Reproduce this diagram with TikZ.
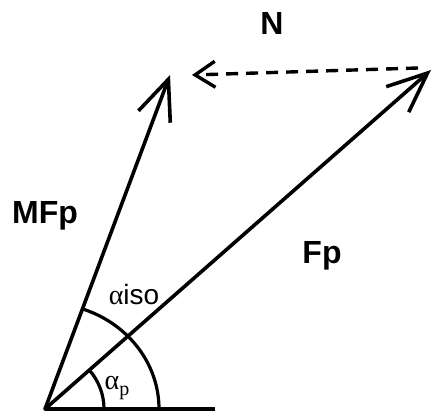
\documentclass[tikz,border=0pt]{standalone}
\usepackage{fontspec}
\setmainfont{Liberation Sans}
\newfontfamily\serifgr{Liberation Serif}
\usetikzlibrary{arrows.meta}
\begin{document}
\begin{tikzpicture}[x=1pt,y=1pt,
  vec/.style={line width=3.6pt,line cap=round,-{Straight Barb[length=40pt,width=34pt,line width=3.6pt]}},
  nvec/.style={line width=3.4pt,dash pattern=on 12pt off 8pt,-{Straight Barb[length=20pt,width=26pt,line width=3.4pt]}},
  anglearc/.style={line width=3.2pt},
  boldlbl/.style={font=\fontsize{32}{34}\selectfont\bfseries,inner sep=0pt},
  anglbl/.style={font=\fontsize{28}{30}\selectfont,inner sep=0pt}]
\useasboundingbox (0,0) rectangle (433,415);
\coordinate (O) at (45,6);
\coordinate (A) at (170,340);
\coordinate (B) at (431,345);
\coordinate (D) at (418,347);
\coordinate (C) at (192,340);
\coordinate (E) at (215,6);
\draw[vec] (O) -- (A);
\draw[vec] (O) -- (B);
\draw[nvec] (D) -- (C);
\draw[line width=3.6pt] (O) -- (E);
\draw[anglearc] (O) ++(114,0) arc[start angle=0,end angle=70,x radius=114,y radius=106];
\draw[anglearc] (O) ++(59,0) arc[start angle=0,end angle=41.4,radius=59];
\node[boldlbl] (N) at (272,392) {N};
\node[boldlbl] (MFp) at (45,199) {MFp};
\node[boldlbl] (Fp) at (322,159) {Fp};
\node[anglbl] (aiso) at (134,121) {{\serifgr α}iso};
\node[anglbl] (ap) at (117,27) {{\serifgr α\raisebox{-0.4ex}{\fontsize{20}{20}\selectfont p}}};
\end{tikzpicture}
\end{document}
